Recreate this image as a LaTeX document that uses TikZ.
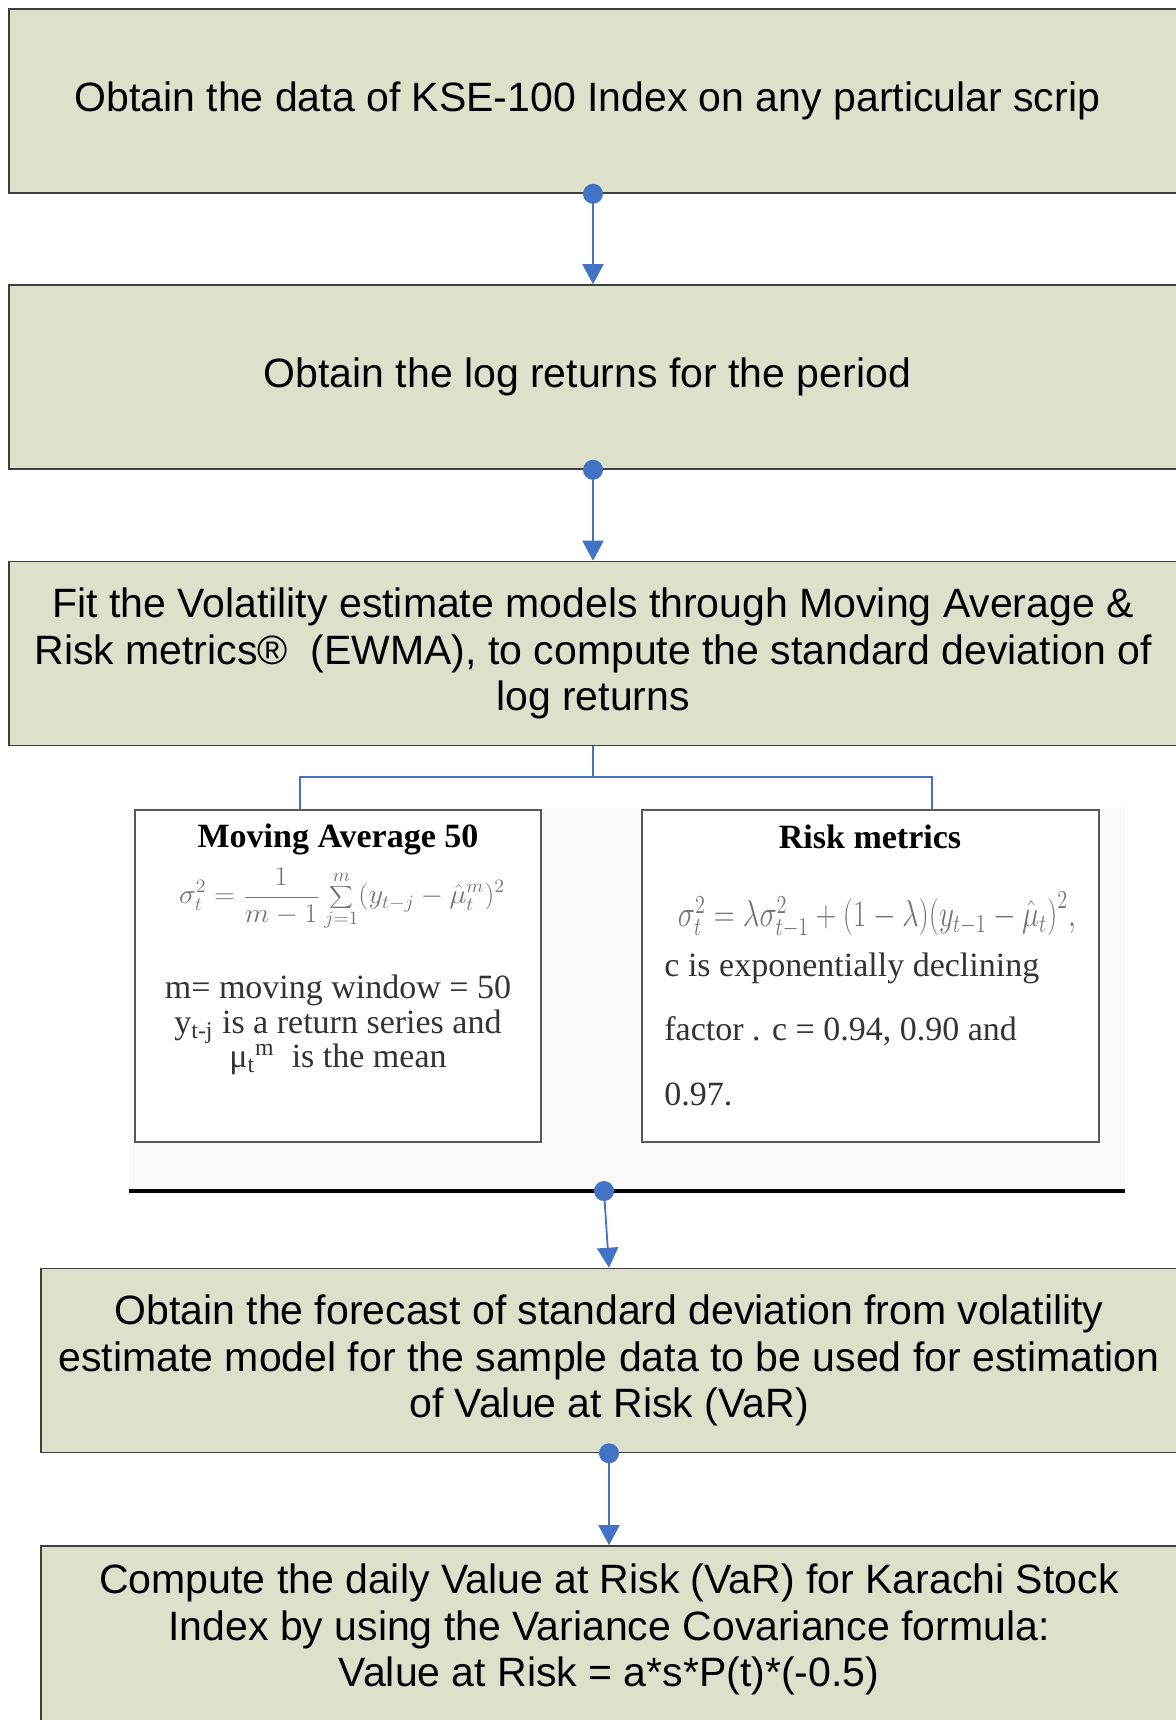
\documentclass[tikz,border=0pt]{standalone}
\usepackage{fontspec}
\usepackage{graphicx}
\setmainfont{Liberation Serif}
\setsansfont{Liberation Sans}
\usetikzlibrary{arrows.meta}
\definecolor{stagefill}{RGB}{221,225,204}
\definecolor{linkblue}{RGB}{68,114,196}

\begin{document}
\begin{tikzpicture}[x=0.5pt, y=-0.5pt,
    stagebox/.style={
        rectangle,
        draw=black!75,
        line width=0.8pt,
        fill=stagefill,
        minimum width=584pt,
        minimum height=92pt,
        align=center,
        font=\sffamily\fontsize{20.5}{23.3}\selectfont
    },
    modelbox/.style={
        rectangle,
        draw=black!65,
        line width=1.3pt,
        fill=white,
        minimum height=166pt
    },
    modeltext/.style={inner sep=0pt, text=black!80, font=\fontsize{17}{17.3}\selectfont},
    modeltitle/.style={inner sep=0pt, text=black, font=\bfseries\fontsize{17}{17.3}\selectfont},
    link/.style={draw=linkblue, line width=0.9pt, shorten <=-5pt,
        {Circle[length=10pt]}-{Triangle[length=10pt,width=10.5pt]}},
    bracketline/.style={draw=linkblue, line width=0.55pt}
]

    \useasboundingbox (0,0) rectangle (1176,1720);
    \clip (0,0) rectangle (1176,1720);


    \node (obtain_kse_data) [stagebox] at (593,101)
    {
        Obtain the data of KSE-100 Index on any particular scrip
    };

    \node (log_returns) [stagebox] at (593,377)
    {
        Obtain the log returns for the period
    };

    \node (fit_volatility) [stagebox] at (593,653.5)
    {
        Fit the Volatility estimate models through Moving Average \&\\
        Risk metrics®\ \ (EWMA), to compute the standard deviation of\\
        log returns
    };


    % pasted panel with the two models
    \fill[black!2] (129,807) rectangle (1125,1193);

    \node (moving_average_box) [modelbox, minimum width=203pt] at (338,976) {};
    \node (risk_metrics_box) [modelbox, minimum width=228.5pt] at (870.5,976) {};

    \node (moving_average_title) [modeltitle] at (338,839) {Moving Average 50};
    \node (moving_average_formula) [modeltext, text=black!55] at (342,899)
    {
        \resizebox*{163pt}{31pt}{$\displaystyle\sigma_t^2=\frac{1}{m-1}\sum_{j=1}^{m}(y_{t-j}-\hat{\mu}_t^{m})^2$}
    };
    \node (moving_average_notes) [modeltext, align=center] at (338,1025)
    {
        m= moving window = 50\\
        y\textsubscript{t-j} is a return series and\\
        μ\textsubscript{t}\textsuperscript{m}\ \ is the mean
    };

    \node (risk_metrics_title) [modeltitle] at (870,837) {Risk metrics};
    \node (risk_metrics_formula) [modeltext, text=black!55] at (877,915)
    {
        \resizebox*{199pt}{23pt}{$\sigma_t^2=\lambda\sigma_{t-1}^2+\Bigl(1-\lambda\Bigr)\Bigl(y_{t-1}-\hat{\mu}_t\Bigr)^2,$}
    };
    \node (risk_metrics_notes) [modeltext, align=left, anchor=west,
        font=\fontsize{17}{32.25}\selectfont] at (664,1029)
    {
        c is exponentially declining\\
        factor . c = 0.94, 0.90 and\\
        0.97.
    };

    \coordinate (model_split) at (593,777);
    \coordinate (moving_average_entry) at (300,809);
    \coordinate (risk_metrics_entry) at (932,809);

    \draw[bracketline] (fit_volatility.south) -- (model_split) -| (moving_average_entry);
    \draw[bracketline] (model_split) -| (risk_metrics_entry);


    \coordinate (bar_west) at (129,1191);
    \coordinate (bar_east) at (1125,1191);
    \coordinate (bar_joint) at (604,1191);
    \draw[line width=1.7pt] (bar_west) -- (bar_east);


    \node (forecast_sd) [stagebox, minimum width=568pt] at (609,1360.5)
    {
        Obtain the forecast of standard deviation from volatility\\
        estimate model for the sample data to be used for estimation\\
        of Value at Risk (VaR)
    };

    \node (daily_var) [stagebox, minimum width=568pt, minimum height=102.5pt] at (609,1648.5)
    {
        Compute the daily Value at Risk (VaR) for Karachi Stock\\
        Index by using the Variance Covariance formula:\\
        Value at Risk = a*s*P(t)*(-0.5)\\
        \mbox{}
    };


    \draw[link] (obtain_kse_data.south) to (log_returns.north);
    \draw[link] (log_returns.south) to (fit_volatility.north);
    \draw[link] (bar_joint) to (forecast_sd.north);
    \draw[link] (forecast_sd.south) to (daily_var.north);


\end{tikzpicture}
\end{document}
